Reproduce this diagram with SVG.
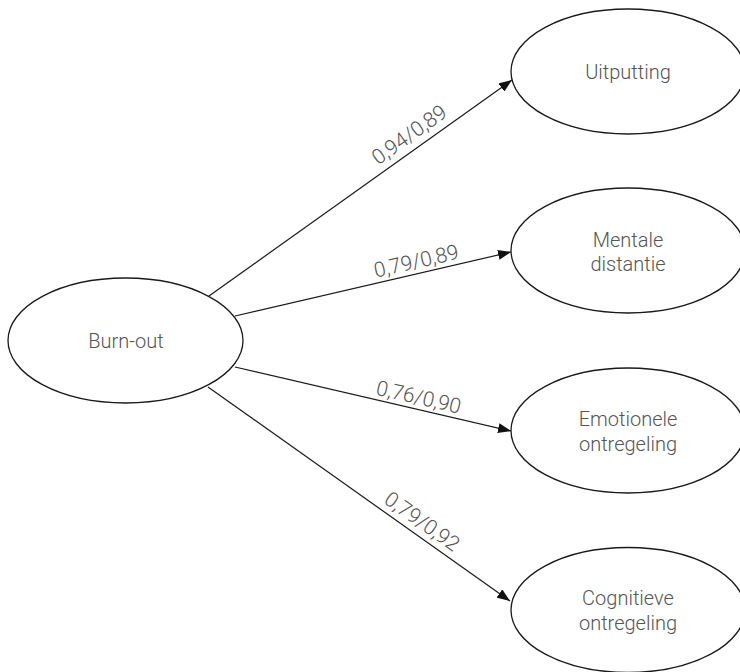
<svg xmlns="http://www.w3.org/2000/svg" width="740" height="672" viewBox="0 0 740 672">
<style>
.node ellipse{fill:#fff;stroke:#1a1a1a;stroke-width:1.3}
.node text{font-family:Roboto,"Liberation Sans",sans-serif;font-weight:300;font-size:20px;fill:#555;text-anchor:middle}
.edge line{stroke:#1a1a1a;stroke-width:1.2}
.lbl{font-family:Roboto,"Liberation Sans",sans-serif;font-weight:300;font-size:21px;fill:#555;text-anchor:middle}
</style>
<defs>
<marker id="arr" viewBox="0 0 13 10" refX="13" refY="5" markerWidth="13" markerHeight="10" markerUnits="userSpaceOnUse" orient="auto">
<path d="M0,0 L13,5 L0,10 Z" fill="#111"/>
</marker>
</defs>
<rect width="740" height="672" fill="#fff"/>
<g id="connectors" class="edge">
<line x1="209" y1="296" x2="512" y2="80" marker-end="url(#arr)"/>
<line x1="235" y1="316" x2="511" y2="252" marker-end="url(#arr)"/>
<line x1="235" y1="367" x2="511" y2="431" marker-end="url(#arr)"/>
<line x1="208" y1="387" x2="510" y2="601" marker-end="url(#arr)"/>
<text class="lbl" transform="translate(418,147) rotate(-35.5)" y="-8">0,94/0,89</text>
<text class="lbl" transform="translate(419,273) rotate(-13.05)" y="-5">0,79/0,89</text>
<text class="lbl" transform="translate(416,409) rotate(13.05)" y="-5">0,76/0,90</text>
<text class="lbl" transform="translate(414,533) rotate(35.3)" y="-7">0,79/0,92</text>
</g>
<g id="burnout" class="node">
<ellipse cx="125.5" cy="340.5" rx="117.5" ry="62.5"/>
<text x="126" y="348">Burn-out</text>
</g>
<g id="uitputting" class="node">
<ellipse cx="628" cy="71.5" rx="117" ry="62.5"/>
<text x="628" y="79">Uitputting</text>
</g>
<g id="mentale" class="node">
<ellipse cx="628" cy="250.5" rx="117" ry="62.5"/>
<text x="628" y="247">Mentale</text>
<text x="628" y="271">distantie</text>
</g>
<g id="emotionele" class="node">
<ellipse cx="628" cy="430.5" rx="117" ry="62.5"/>
<text x="628" y="426">Emotionele</text>
<text x="628" y="451">ontregeling</text>
</g>
<g id="cognitieve" class="node">
<ellipse cx="628" cy="610" rx="117" ry="62.5"/>
<text x="628" y="605">Cognitieve</text>
<text x="628" y="630">ontregeling</text>
</g>
</svg>
